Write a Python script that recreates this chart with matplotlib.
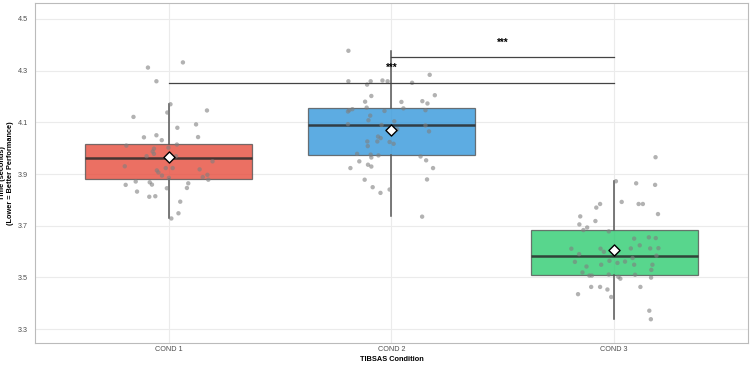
import matplotlib
matplotlib.use("Agg")
import matplotlib.pyplot as plt

plt.rcParams['font.family'] = ['Liberation Sans', 'DejaVu Sans']

conditions = ["COND 1", "COND 2", "COND 3"]
fill_colors = ["#E74C3C", "#3498DB", "#2ECC71"]

# box statistics
q1 = [3.881, 3.972, 3.510]
medians = [3.961, 4.088, 3.582]
q3 = [4.015, 4.157, 3.683]
whis_lo = [3.730, 3.737, 3.338]
whis_hi = [4.172, 4.375, 3.873]
means = [3.965, 4.072, 3.606]

# raw observations (y) and their horizontal jitter
cond1_y = [4.312, 4.332, 4.259, 4.170, 4.138, 4.146, 4.121, 4.092, 4.079, 4.042,
           4.050, 4.031, 4.043, 4.010, 4.014, 3.998, 3.987, 4.002, 3.969, 3.969,
           3.978, 3.930, 3.949, 3.923, 3.923, 3.914, 3.906, 3.918, 3.897, 3.888,
           3.878, 3.894, 3.885, 3.858, 3.871, 3.868, 3.859, 3.864, 3.846, 3.832,
           3.845, 3.812, 3.814, 3.793, 3.748, 3.728]
cond1_dx = [-0.093, 0.064, -0.055, 0.008, -0.006, 0.172, -0.158, 0.123, 0.039, -0.111,
            -0.055, -0.031, 0.132, -0.190, 0.037, -0.066, -0.072, -0.001, -0.099, 0.033,
            -0.066, -0.197, 0.197, -0.013, 0.018, -0.053, -0.046, 0.139, 0.174, 0.153,
            0.178, -0.030, 0.001, -0.193, -0.148, -0.085, -0.075, 0.088, 0.082, -0.142,
            -0.008, -0.087, -0.060, 0.052, 0.044, 0.012]

cond2_y = [4.377, 4.284, 4.259, 4.259, 4.246, 4.262, 4.259, 4.253, 4.205, 4.202,
           4.180, 4.179, 4.182, 4.173, 4.157, 4.154, 4.147, 4.151, 4.142, 4.144,
           4.147, 4.126, 4.108, 4.093, 4.090, 4.104, 4.073, 4.088, 4.065, 4.045,
           4.039, 4.026, 4.026, 4.008, 4.024, 4.017, 3.978, 3.975, 3.964, 3.972,
           3.968, 3.953, 3.949, 3.936, 3.929, 3.923, 3.923, 3.878, 3.879, 3.849,
           3.827, 3.840, 3.735]
cond2_dx = [-0.193, 0.172, -0.193, -0.093, -0.109, -0.040, -0.017, 0.093, 0.195, -0.090,
            -0.118, 0.045, 0.139, 0.162, -0.111, 0.054, -0.189, -0.175, -0.195, -0.031,
            0.153, -0.095, -0.103, -0.195, -0.044, 0.013, 0.026, 0.153, 0.169, -0.060,
            -0.048, -0.108, -0.063, -0.106, -0.008, 0.010, -0.154, -0.093, -0.090, -0.058,
            0.131, 0.156, -0.144, -0.105, -0.090, 0.187, -0.184, -0.120, 0.160, -0.084,
            -0.049, -0.008, 0.138]

cond3_y = [3.965, 3.872, 3.864, 3.858, 3.792, 3.784, 3.784, 3.784, 3.770, 3.745,
           3.736, 3.718, 3.705, 3.693, 3.683, 3.678, 3.650, 3.655, 3.652, 3.624,
           3.611, 3.611, 3.599, 3.612, 3.612, 3.613, 3.590, 3.584, 3.560, 3.564,
           3.556, 3.561, 3.575, 3.549, 3.549, 3.549, 3.542, 3.529, 3.519, 3.507,
           3.507, 3.511, 3.510, 3.499, 3.502, 3.495, 3.463, 3.463, 3.453, 3.463,
           3.435, 3.424, 3.371, 3.338]
cond3_dx = [0.186, 0.008, 0.099, 0.184, 0.034, 0.110, 0.129, -0.063, -0.080, 0.197,
            -0.152, -0.084, -0.156, -0.121, -0.138, -0.024, 0.090, 0.156, 0.187, 0.115,
            -0.192, -0.061, -0.046, 0.075, 0.162, 0.199, -0.157, 0.190, -0.176, -0.021,
            0.015, 0.049, 0.083, -0.058, 0.090, 0.172, -0.124, 0.167, -0.142, -0.111,
            -0.100, -0.024, 0.094, 0.166, 0.019, 0.028, -0.103, -0.063, -0.030, 0.118,
            -0.162, -0.013, 0.158, 0.165]

obs_y = [cond1_y, cond2_y, cond3_y]
obs_dx = [cond1_dx, cond2_dx, cond3_dx]

# significance brackets: (from group, to group, height, label)
comparisons = [(1, 3, 4.251, "***"), (2, 3, 4.351, "***")]

fig = plt.figure(figsize=(7.5, 3.67), dpi=100)
ax = fig.add_axes([0.0467, 0.0654, 0.9503, 0.9265])

positions = [1, 2, 3]
stats = []
for i in range(3):
    stats.append({'q1': q1[i], 'med': medians[i], 'q3': q3[i],
                  'whislo': whis_lo[i], 'whishi': whis_hi[i], 'fliers': []})

bp = ax.bxp(stats, positions=positions, widths=0.75, patch_artist=True,
            showcaps=False, showfliers=False,
            boxprops=dict(edgecolor='#555555', linewidth=0.9),
            whiskerprops=dict(color='#555555', linewidth=1.1),
            medianprops=dict(color='#2a2a2a', linewidth=1.8, alpha=0.85))
for patch, c in zip(bp['boxes'], fill_colors):
    patch.set_facecolor(c)
    patch.set_alpha(0.8)
    patch.set_edgecolor('#555555')
    patch.set_zorder(2)

for i in range(3):
    xs = [positions[i] + d for d in obs_dx[i]]
    ax.scatter(xs, obs_y[i], s=10, color='#7f7f7f', alpha=0.6,
               edgecolors='none', zorder=3)

ax.scatter(positions, means, marker='D', s=32, facecolor='white',
           edgecolor='black', linewidth=1.0, zorder=5)

for a, b, h, lab in comparisons:
    ax.plot([a, b], [h, h], color='#444444', linewidth=0.9, zorder=4)
    ax.text((a + b) / 2, h + 0.058, lab, ha='center', va='center',
            fontsize=7, fontweight='bold', color='black')

ax.set_xlim(0.4, 3.6)
ax.set_ylim(3.246, 4.562)
ax.set_xticks(positions)
ax.set_xticklabels(conditions)
ax.set_yticks([3.3, 3.5, 3.7, 3.9, 4.1, 4.3, 4.5])
ax.set_yticklabels(["3.3", "3.5", "3.7", "3.9", "4.1", "4.3", "4.5"])
ax.tick_params(axis='x', length=0, labelsize=5.2, labelcolor='#4d4d4d', pad=2)
ax.tick_params(axis='y', length=0, labelsize=5.2, labelcolor='#4d4d4d', pad=5)
ax.grid(True, color='#ebebeb', linewidth=0.8)
ax.set_axisbelow(True)
for sp in ax.spines.values():
    sp.set_color('#bbbbbb')
    sp.set_linewidth(0.8)

ax.set_xlabel("TIBSAS Condition", fontsize=5.3, fontweight='bold', labelpad=2)
ax.set_ylabel("Time (seconds)\n(Lower = Better Performance)", fontsize=5.3,
              fontweight='bold', labelpad=3)

fig.savefig("out.png", dpi=100)
